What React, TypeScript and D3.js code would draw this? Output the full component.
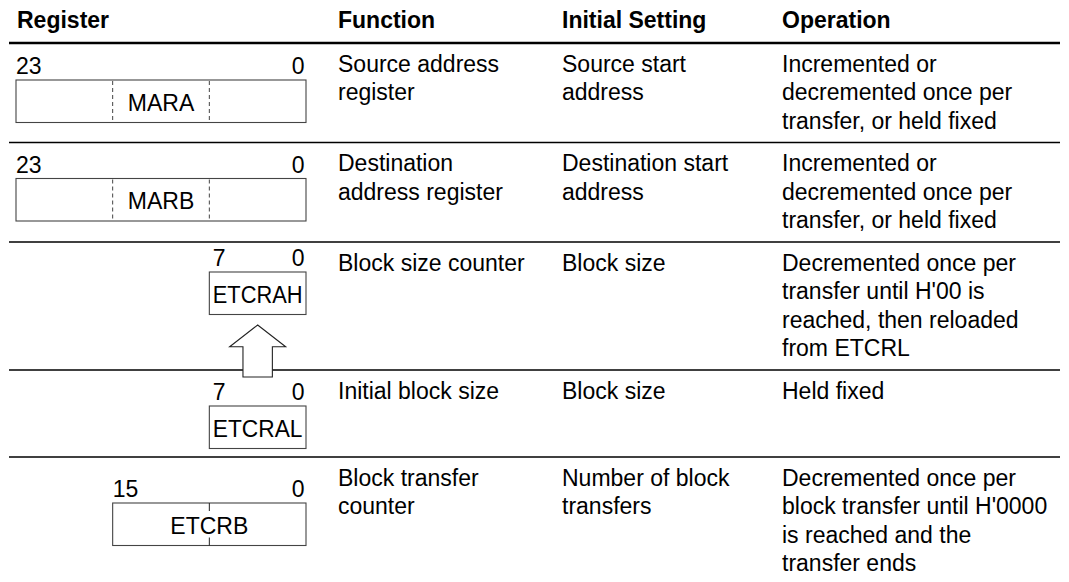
import React from "react";
import * as d3 from "d3";

// table content
const headers = ["Register", "Function", "Initial Setting", "Operation"];
const registerNames = ["MARA", "MARB", "ETCRAH", "ETCRAL", "ETCRB"];
const registerMsb = [23, 23, 7, 7, 15];
const registerLsb = [0, 0, 0, 0, 0];
const dividerBits = [[16, 8], [16, 8], [], [], [8]];
const functionLines = [
  ["Source address", "register"],
  ["Destination", "address register"],
  ["Block size counter"],
  ["Initial block size"],
  ["Block transfer", "counter"],
];
const initialLines = [
  ["Source start", "address"],
  ["Destination start", "address"],
  ["Block size"],
  ["Block size"],
  ["Number of block", "transfers"],
];
const operationLines = [
  ["Incremented or", "decremented once per", "transfer, or held fixed"],
  ["Incremented or", "decremented once per", "transfer, or held fixed"],
  ["Decremented once per", "transfer until H'00 is", "reached, then reloaded", "from ETCRL"],
  ["Held fixed"],
  ["Decremented once per", "block transfer until H'0000", "is reached and the", "transfer ends"],
];
// ETCRAL reloads ETCRAH
const reloadFrom = 3;
const reloadTo = 2;

const W = 1069;
const H = 582;
const FONT = "'Liberation Sans', Arial, Helvetica, sans-serif";
const FS = 23;
const lineH = 28.5;
const tableLeft = 9;
const tableRight = 1060;
const headerLine = 43;
const colX = [17, 338, 562, 782];
const boxDrop = [37, 36, 30, 36, 46];
const boxH = 42.5;

export default function App() {
  const bit = d3.scaleLinear().domain([24, 0]).range([16, 306]);

  const textCols = [functionLines, initialLines, operationLines];
  const heights = registerNames.map((_, i) =>
    Math.max(d3.max(textCols, (c) => c[i].length)! * lineH + 14, 87)
  );
  const tops = heights.map((_, i) => headerLine + d3.sum(heights.slice(0, i)));

  const boxTop = (i: number) => tops[i] + boxDrop[i];

  // reload arrow
  const ax = bit((registerMsb[reloadTo] + 1 + registerLsb[reloadTo]) / 2);
  const tipY = boxTop(reloadTo) + boxH + 10.5;
  const baseY = tops[reloadFrom] + 7;
  const wing = 28;
  const stem = 14.7;
  const wingY = tipY + 21.7;
  const arrowPts: [number, number][] = [
    [ax, tipY],
    [ax + wing, wingY],
    [ax + stem, wingY],
    [ax + stem, baseY],
    [ax - stem, baseY],
    [ax - stem, wingY],
    [ax - wing, wingY],
  ];
  const arrowPath = d3.line()(arrowPts) + "Z";

  return (
    <svg
      width={W}
      height={H}
      style={{ position: "absolute", left: 0, top: 0, background: "#fff" }}
      fontFamily={FONT}
    >
      <rect width={W} height={H} fill="#fff" />
      {headers.map((h, i) => (
        <text key={h} x={colX[i]} y={28.3} fontSize={FS} fontWeight="bold" fill="#000">
          {h}
        </text>
      ))}
      <line x1={tableLeft} x2={tableRight} y1={headerLine} y2={headerLine} stroke="#000" strokeWidth={2.6} />
      {tops.slice(1).map((t, i) => (
        <line key={i} x1={tableLeft} x2={tableRight} y1={t} y2={t} stroke="#000" strokeWidth={1.3} />
      ))}

      {registerNames.map((name, i) => {
        const x0 = bit(registerMsb[i] + 1);
        const x1 = bit(registerLsb[i]);
        const y0 = boxTop(i);
        const full = registerMsb[i] === 23;
        const narrow = registerMsb[i] < 10;
        return (
          <g key={name}>
            <text x={x0 + (narrow ? 3.5 : 0)} y={y0 - 6} fontSize={FS} fill="#000">
              {registerMsb[i]}
            </text>
            <text x={x1 - 1.5} y={y0 - 6} fontSize={FS} textAnchor="end" fill="#000">
              {registerLsb[i]}
            </text>
            <rect x={x0} y={y0} width={x1 - x0} height={boxH} fill="#fff" stroke="#444" strokeWidth={1.1} />
            {dividerBits[i].map((b) =>
              full ? (
                <line
                  key={b}
                  x1={bit(b)}
                  x2={bit(b)}
                  y1={y0 + 1}
                  y2={y0 + boxH}
                  stroke="#444"
                  strokeWidth={1}
                  strokeDasharray="4,3"
                />
              ) : (
                <g key={b}>
                  <line x1={bit(b)} x2={bit(b)} y1={y0} y2={y0 + 8} stroke="#222" strokeWidth={1} />
                  <line x1={bit(b)} x2={bit(b)} y1={y0 + boxH - 8} y2={y0 + boxH} stroke="#222" strokeWidth={1} />
                </g>
              )
            )}
            <text
              x={(x0 + x1) / 2}
              y={y0 + 30.5}
              fontSize={FS}
              textAnchor="middle"
              fill="#000"
              textLength={narrow ? x1 - x0 - 7 : undefined}
              lengthAdjust={narrow ? "spacingAndGlyphs" : undefined}
            >
              {name}
            </text>
          </g>
        );
      })}

      <path d={arrowPath} fill="#fff" stroke="#222" strokeWidth={1.1} strokeLinejoin="miter" />

      {textCols.map((col, c) =>
        col.map((lines, i) => (
          <text key={`${c}-${i}`} x={colX[c + 1]} y={tops[i] + 28.5} fontSize={FS} fill="#000">
            {lines.map((l, k) => (
              <tspan key={k} x={colX[c + 1]} dy={k === 0 ? 0 : lineH}>
                {l}
              </tspan>
            ))}
          </text>
        ))
      )}
    </svg>
  );
}
